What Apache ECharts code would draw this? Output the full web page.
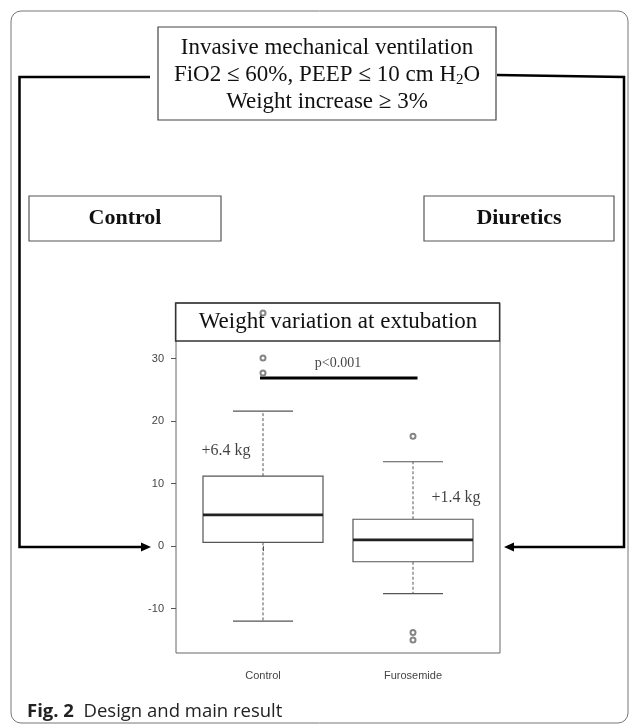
<!DOCTYPE html>
<html>
<head>
<meta charset="utf-8">
<style>
  html, body { margin: 0; padding: 0; background: #ffffff; }
  #chart { width: 630px; height: 724px; }
</style>
<script src="https://cdn.jsdelivr.net/npm/echarts@6/dist/echarts.min.js"></script>
</head>
<body>
<div id="chart"></div>
<script>
// ---- data ----
const categories = ['Control', 'Furosemide'];
const categoryPos = [1, 2];
const whiskerLow = [-12.0, -7.6];
const q1 = [0.6, -2.5];
const median = [5.0, 1.0];
const q3 = [11.2, 4.3];
const whiskerHigh = [21.6, 13.5];
const outliersControl = [37.3, 30.1, 27.7];
const outliersFurosemide = [17.6, -13.8, -15.0];
const yTicks = [-10, 0, 10, 20, 30];
const pBarX = [0.98, 2.03];
const pBarY = 26.9;
const annotationText = ['p<0.001', '+6.4 kg', '+1.4 kg'];
const annotationX = [1.5, 0.753, 2.287];
const annotationY = [29.3, 15.2, 7.8];
const annotationSize = [14, 16, 16];

const SERIF = "'Liberation Serif', 'Times New Roman', serif";
const SANS = "'Liberation Sans', Arial, sans-serif";

const boxData = categoryPos.map((x, i) => [x, whiskerLow[i], q1[i], median[i], q3[i], whiskerHigh[i]]);
const outlierData = []
  .concat(outliersControl.map(v => [categoryPos[0], v]))
  .concat(outliersFurosemide.map(v => [categoryPos[1], v]));
const annData = annotationText.map((t, i) => [annotationX[i], annotationY[i], t, annotationSize[i]]);

function renderBox(params, api) {
  const x = api.value(0);
  const lo = api.coord([x, api.value(1)]);
  const b1 = api.coord([x, api.value(2)]);
  const md = api.coord([x, api.value(3)]);
  const b3 = api.coord([x, api.value(4)]);
  const hi = api.coord([x, api.value(5)]);
  const halfW = api.size([0.8, 0])[0] / 2;
  const capHalf = halfW / 2;
  const cx = lo[0];
  const gray = '#555';
  return {
    type: 'group',
    children: [
      { type: 'line', shape: { x1: cx, y1: b3[1], x2: cx, y2: hi[1] },
        style: { stroke: gray, lineWidth: 1, lineDash: [3, 2] } },
      { type: 'line', shape: { x1: cx, y1: b1[1], x2: cx, y2: lo[1] },
        style: { stroke: gray, lineWidth: 1, lineDash: [3, 2] } },
      { type: 'line', shape: { x1: cx - capHalf, y1: hi[1], x2: cx + capHalf, y2: hi[1] },
        style: { stroke: gray, lineWidth: 1.2 } },
      { type: 'line', shape: { x1: cx - capHalf, y1: lo[1], x2: cx + capHalf, y2: lo[1] },
        style: { stroke: gray, lineWidth: 1.2 } },
      { type: 'rect', shape: { x: cx - halfW, y: b3[1], width: halfW * 2, height: b1[1] - b3[1] },
        style: { fill: '#ffffff', stroke: gray, lineWidth: 1.2 } },
      { type: 'line', shape: { x1: cx - halfW, y1: md[1], x2: cx + halfW, y2: md[1] },
        style: { stroke: '#222', lineWidth: 2.6 } }
    ]
  };
}

const chart = echarts.init(document.getElementById('chart'), null, { renderer: 'canvas' });

const option = {
  animation: false,
  backgroundColor: '#ffffff',
  grid: {
    left: 176, top: 303, width: 324, height: 350,
    show: true, borderColor: '#666', borderWidth: 1, backgroundColor: 'transparent'
  },
  xAxis: {
    type: 'value', min: 0.42, max: 2.58,
    splitLine: { show: false },
    axisLine: { show: false },
    axisTick: { show: true, customValues: categoryPos, length: 5, lineStyle: { color: '#555' } },
    axisLabel: {
      customValues: categoryPos,
      formatter: v => categories[Math.round(v) - 1] || '',
      margin: 17, fontSize: 11, color: '#444', fontFamily: SANS
    }
  },
  yAxis: {
    type: 'value', min: -17.1, max: 38.9,
    splitLine: { show: false },
    axisLine: { show: false },
    axisTick: { show: true, customValues: yTicks, length: 5, lineStyle: { color: '#555' } },
    axisLabel: {
      customValues: yTicks,
      margin: 12, fontSize: 11, color: '#444', fontFamily: SANS
    }
  },
  series: [
    {
      type: 'custom',
      data: boxData,
      renderItem: renderBox,
      encode: { x: 0, y: [1, 2, 3, 4, 5] },
      silent: true, z: 2
    },
    {
      type: 'scatter',
      data: outlierData,
      symbol: 'emptyCircle', symbolSize: 5,
      itemStyle: { color: '#666', borderColor: '#666', borderWidth: 1 },
      clip: false, silent: true, z: 5
    },
    {
      type: 'line',
      data: pBarX.map(x => [x, pBarY]),
      symbol: 'none',
      lineStyle: { color: '#000', width: 3 },
      silent: true, z: 4
    },
    {
      type: 'scatter',
      data: annData,
      symbolSize: 1,
      itemStyle: { color: 'transparent' },
      label: {
        show: true, position: 'inside',
        formatter: p => p.value[2],
        fontFamily: SERIF, color: '#111'
      },
      silent: true, z: 6
    }
  ],
  graphic: [
    // outer rounded frame
    { type: 'rect', shape: { x: 11, y: 11, width: 617, height: 712, r: 10 },
      style: { fill: 'none', stroke: '#777', lineWidth: 1 }, z: 1 },
    // top box
    { type: 'rect', shape: { x: 158, y: 27, width: 338, height: 93 },
      style: { fill: '#fff', stroke: '#444', lineWidth: 1.2 }, z: 2 },
    { type: 'text', x: 327, y: 75, z: 3,
      style: {
        text: '{n|Invasive mechanical ventilation}\n{n|FiO2 ≤ 60%, PEEP ≤ 10 cm H}{s|2}{n|O}\n{n|Weight increase ≥ 3%}',
        align: 'center', verticalAlign: 'middle',
        rich: {
          n: { fontSize: 23, fontFamily: SERIF, lineHeight: 27, fill: '#111', align: 'center' },
          s: { fontSize: 15, fontFamily: SERIF, lineHeight: 15, padding: [10, 0, 0, 0], fill: '#111' }
        }
      } },
    // connectors
    { type: 'polyline', shape: { points: [[150, 77], [19.5, 77], [19.5, 547], [143, 547]] },
      style: { stroke: '#000', lineWidth: 2.5, fill: 'none' }, z: 2 },
    { type: 'polygon', shape: { points: [[151, 547], [141, 542.5], [141, 551.5]] },
      style: { fill: '#000' }, z: 2 },
    { type: 'polyline', shape: { points: [[497, 75], [624, 77], [624, 547], [513, 547]] },
      style: { stroke: '#000', lineWidth: 2.5, fill: 'none' }, z: 2 },
    { type: 'polygon', shape: { points: [[504, 547], [514, 542.5], [514, 551.5]] },
      style: { fill: '#000' }, z: 2 },
    // group boxes
    { type: 'rect', shape: { x: 29, y: 196, width: 192, height: 45 },
      style: { fill: '#fff', stroke: '#555', lineWidth: 1.2 }, z: 2 },
    { type: 'text', x: 125, y: 218, z: 3,
      style: { text: 'Control', font: "bold 22px 'Liberation Serif', serif", fill: '#111', align: 'center', verticalAlign: 'middle' } },
    { type: 'rect', shape: { x: 424, y: 196, width: 190, height: 45 },
      style: { fill: '#fff', stroke: '#555', lineWidth: 1.2 }, z: 2 },
    { type: 'text', x: 519, y: 218, z: 3,
      style: { text: 'Diuretics', font: "bold 22px 'Liberation Serif', serif", fill: '#111', align: 'center', verticalAlign: 'middle' } },
    // plot title box
    { type: 'rect', shape: { x: 175.5, y: 303, width: 324, height: 38 },
      style: { fill: 'none', stroke: '#333', lineWidth: 1.3 }, z: 3 },
    { type: 'text', x: 338, y: 322, z: 3,
      style: { text: 'Weight variation at extubation', font: "23px 'Liberation Serif', serif", fill: '#111', align: 'center', verticalAlign: 'middle' } },
    // caption
    { type: 'text', x: 27, y: 712, z: 3,
      style: {
        text: '{b|Fig. 2}{n|  Design and main result}',
        verticalAlign: 'middle',
        rich: {
          b: { fontSize: 18.5, fontWeight: 'bold', fontFamily: "'Open Sans', 'Noto Sans', sans-serif", fill: '#222' },
          n: { fontSize: 18.5, fontFamily: "'Open Sans', 'Noto Sans', sans-serif", fill: '#222' }
        }
      } }
  ]
};

// per-annotation font sizes
option.series[3].data = annData.map(d => ({ value: d, label: { fontSize: d[3] } }));

chart.setOption(option);
</script>
</body>
</html>
